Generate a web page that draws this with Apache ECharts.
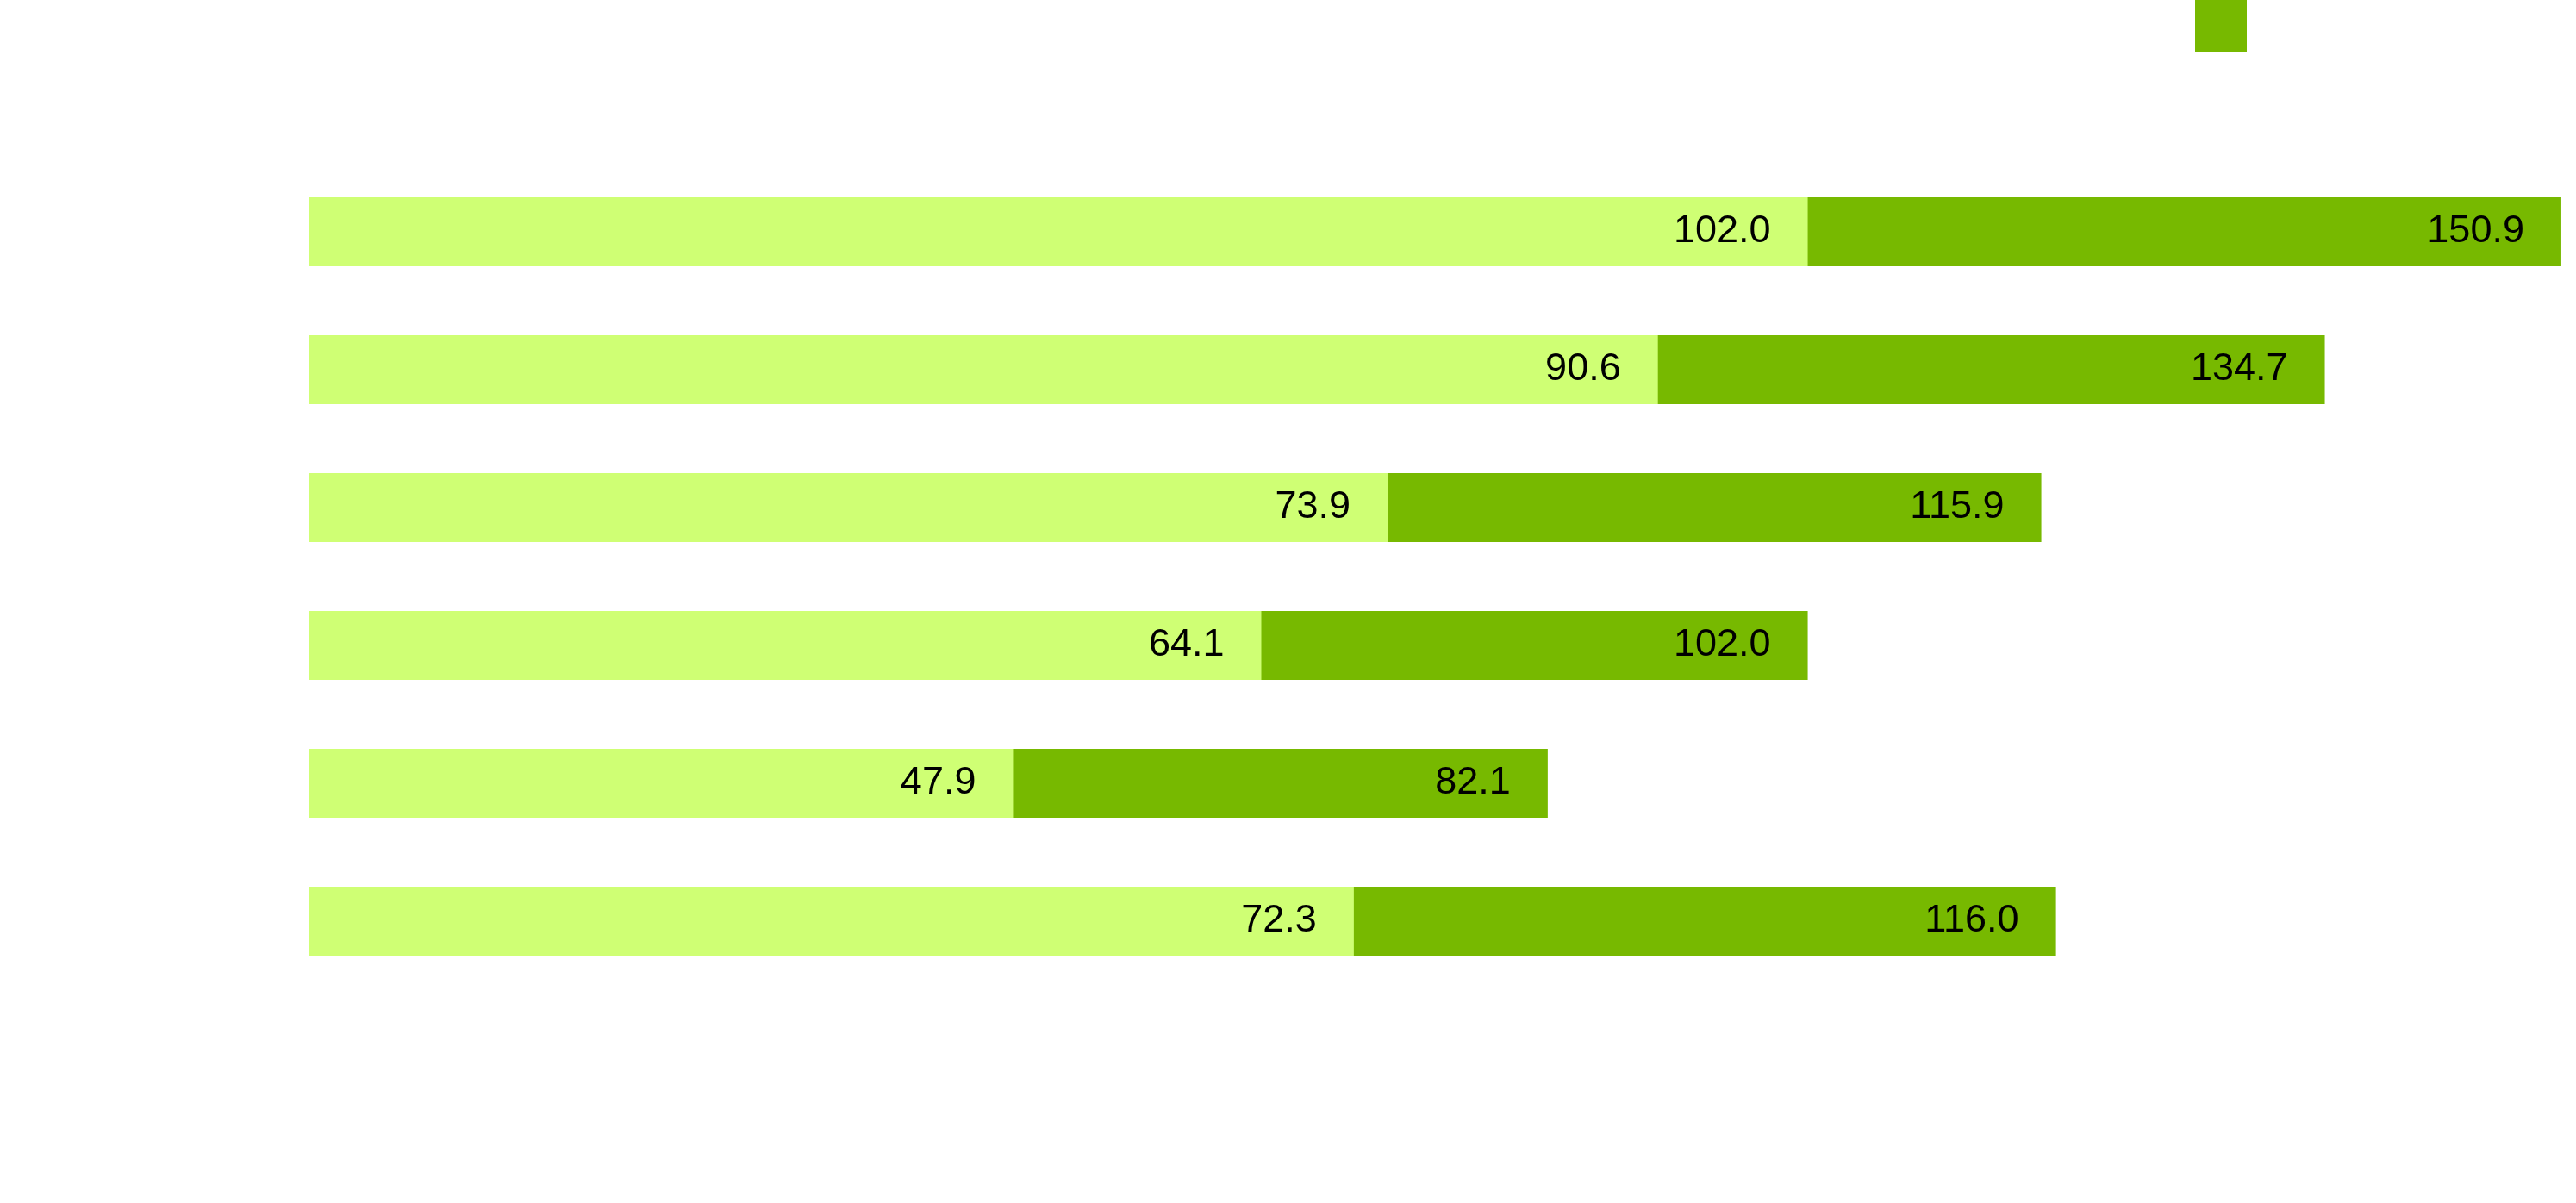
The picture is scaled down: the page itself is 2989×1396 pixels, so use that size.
<!DOCTYPE html>
<html>
<head>
<meta charset="utf-8">
<title>bars</title>
<script src="https://cdn.jsdelivr.net/npm/echarts@6/dist/echarts.min.js"></script>
<style>
  html, body { margin: 0; padding: 0; background: #fff; }
  #main { width: 2989px; height: 1396px; }
</style>
</head>
<body>
<div id="main"></div>
<script>
// rows, top to bottom (the axis labels are hidden in the original)
var categories = ['1', '2', '3', '4', '5', '6'];

// bar lengths
var lightValues = [102.0, 91.8, 73.4, 64.8, 47.9, 71.1];
var darkValues = [153.3, 137.2, 117.9, 102.0, 84.3, 118.9];

// numbers printed inside the bars
var lightLabels = [102.0, 90.6, 73.9, 64.1, 47.9, 72.3];
var darkLabels = [150.9, 134.7, 115.9, 102.0, 82.1, 116.0];

var seriesNames = ['A', 'B'];

var myChart = echarts.init(document.getElementById('main'));

var labelStyle = function (texts) {
    return {
        show: true,
        position: 'insideRight',
        distance: 43,
        color: '#000',
        fontFamily: 'Liberation Sans, Arial, sans-serif',
        fontSize: 45,
        formatter: function (p) {
            return texts[p.dataIndex].toFixed(1);
        }
    };
};

var option = {
    animation: false,
    backgroundColor: '#fff',
    legend: {
        data: [seriesNames[1]],
        left: 2547,
        top: 0,
        padding: 0,
        itemWidth: 60,
        itemHeight: 60,
        icon: 'rect',
        textStyle: { color: '#fff', fontSize: 40 }
    },
    grid: {
        left: 359,
        top: 189,
        height: 960,
        right: 0,
        containLabel: false
    },
    xAxis: {
        type: 'value',
        min: 0,
        max: 154.3,
        axisLine: { show: false },
        axisTick: { show: false },
        axisLabel: { show: false },
        splitLine: { show: false }
    },
    yAxis: {
        type: 'category',
        data: categories,
        inverse: true,
        axisLine: { show: false },
        axisTick: { show: false },
        axisLabel: { show: false }
    },
    series: [
        {
            name: seriesNames[1],
            type: 'bar',
            data: darkValues,
            barWidth: 80,
            barGap: '-100%',
            itemStyle: { color: '#77B900' },
            label: labelStyle(darkLabels)
        },
        {
            name: seriesNames[0],
            type: 'bar',
            data: lightValues,
            barWidth: 80,
            barGap: '-100%',
            itemStyle: { color: '#CFFF74' },
            label: labelStyle(lightLabels)
        }
    ]
};
myChart.setOption(option);
</script>
</body>
</html>
